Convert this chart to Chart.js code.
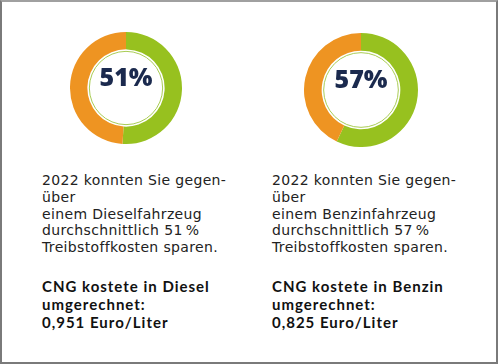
<!DOCTYPE html>
<html lang="de">
<head>
<meta charset="UTF-8">
<title>CNG Ersparnis</title>
<script src="https://cdn.jsdelivr.net/npm/chart.js"></script>
<style>
  html, body { margin: 0; padding: 0; background: #fff; }
  .frame {
    position: relative; width: 494px; height: 360px;
    border: 2px solid #7a7a7a; border-top-color: #a0a0a0;
    font-family: "DejaVu Sans", sans-serif; color: #1a1a1a;
  }
  .donut { position: absolute; }
  .txt { position: absolute; font-size: 14px; line-height: 16.8px; letter-spacing: 0.35px; color: #222; }
  .txt b { display: block; margin-top: 21px; font-family: Lato, sans-serif; font-size: 15px; line-height: 18px; font-weight: 700; letter-spacing: 1px; color: #111; }
</style>
</head>
<body>
<div class="frame">
  <div class="donut" style="left:68px;top:30px;width:112px;height:112px"><canvas id="c1"></canvas></div>
  <div class="donut" style="left:302px;top:31px;width:114px;height:114px"><canvas id="c2"></canvas></div>

  <div class="txt" style="left:40px;top:170px">
    2022 konnten Sie gegen-<br>über<br>einem Dieselfahrzeug<br>durchschnittlich 51&#8201;%<br>Treibstoffkosten sparen.
    <b>CNG kostete in Diesel<br>umgerechnet:<br>0,951 Euro/Liter</b>
  </div>
  <div class="txt" style="left:270px;top:170px">
    2022 konnten Sie gegen-<br>über<br>einem Benzinfahrzeug<br>durchschnittlich 57&#8201;%<br>Treibstoffkosten sparen.
    <b>CNG kostete in Benzin<br>umgerechnet:<br>0,825 Euro/Liter</b>
  </div>
</div>

<script>
// savings share vs. rest (percent)
const labels = ['Ersparnis', 'Kosten'];
const dieselValues = [51, 49];
const benzinValues = [57, 43];
const colors = ['#97c11f', '#ee9422'];

// thin ring and percentage in the middle
const centerPlugin = {
    id: 'center',
    afterDraw(chart) {
        const meta = chart.getDatasetMeta(0);
        const arc = meta.data[0];
        const { x, y, innerRadius } = arc.getProps(['x', 'y', 'innerRadius'], true);
        const ctx = chart.ctx;
        ctx.save();
        ctx.beginPath();
        ctx.arc(x, y, innerRadius - 2, 0, Math.PI * 2);
        ctx.strokeStyle = '#a9cc55';
        ctx.lineWidth = 1;
        ctx.stroke();
        ctx.fillStyle = '#1b2a4e';
        ctx.font = '800 25px "Open Sans", sans-serif';
        ctx.textAlign = 'center';
        ctx.textBaseline = 'middle';
        const v = chart.data.datasets[0].data[0];
        ctx.fillText(v + '%', x, y - 9);
        ctx.restore();
    }
};

function makeDonut(id, values) {
    new Chart(document.getElementById(id), {
        type: 'doughnut',
        data: {
            labels: labels,
            datasets: [{
                data: values,
                backgroundColor: colors,
                borderWidth: 0
            }]
        },
        options: {
            responsive: true,
            maintainAspectRatio: false,
            animation: false,
            cutout: '69%',
            layout: { padding: 0 },
            plugins: {
                legend: { display: false },
                tooltip: { enabled: false }
            }
        },
        plugins: [centerPlugin]
    });
}

makeDonut('c1', dieselValues);
makeDonut('c2', benzinValues);
</script>
</body>
</html>
